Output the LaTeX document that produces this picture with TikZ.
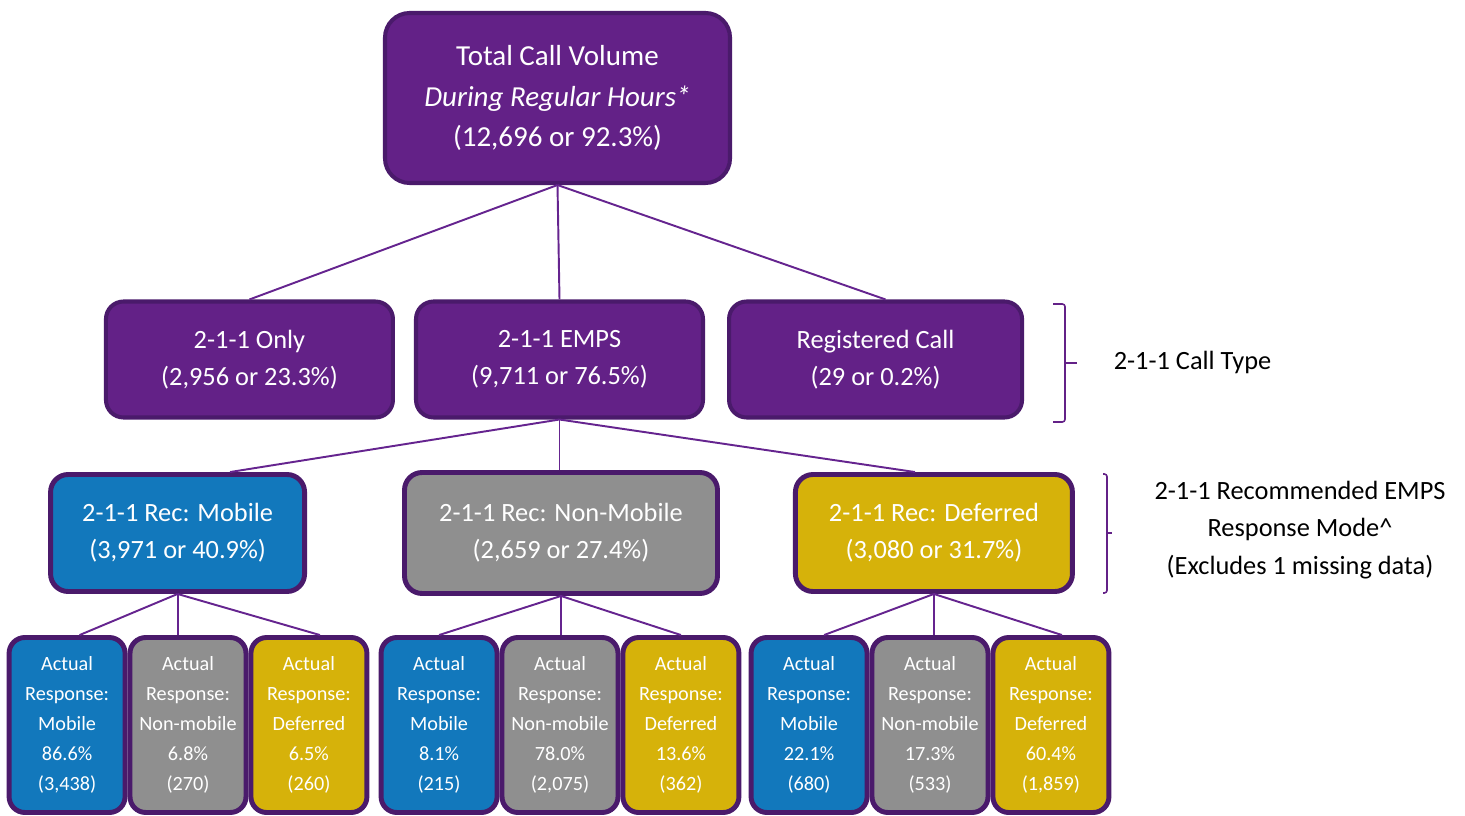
\documentclass[tikz,border=0pt]{standalone}
\usepackage{fontspec}
\setmainfont{Carlito}
\usepackage{xcolor}
\usetikzlibrary{positioning,calc}
\definecolor{callpurple}{HTML}{632187}
\definecolor{edgepurple}{HTML}{4A1A6B}
\definecolor{linepurple}{HTML}{65248F}
\definecolor{mobblue}{HTML}{1278BC}
\definecolor{nonmobgray}{HTML}{8F8F8F}
\definecolor{defgold}{HTML}{D6B20A}
\tikzset{
  box/.style={draw=edgepurple, line width=2.3pt, rounded corners=10pt, align=center,
              text=white, inner sep=2pt},
  calltype/.style={box, fill=callpurple, minimum width=5.74cm, minimum height=2.32cm,
              font=\fontsize{15}{21}\selectfont},
  rec/.style={box, line width=2.8pt, minimum height=2.34cm, font=\fontsize{15}{21}\selectfont},
  actual/.style={box, line width=2.8pt, rounded corners=9pt, minimum width=2.32cm,
              minimum height=3.5cm, font=\fontsize{11.5}{17}\selectfont,
              execute at begin node=\rule{0pt}{16pt}},
  link/.style={draw=linepurple, line width=1.1pt},
  brace/.style={draw=callpurple, line width=0.9pt, rounded corners=1.5pt},
  note/.style={align=center, font=\fontsize{15}{21.3}\selectfont}
}

\begin{document}
\begin{tikzpicture}
  \useasboundingbox (0,0) rectangle (29.3,-16.32);

  \node[box, fill=callpurple, rounded corners=14pt, minimum width=6.9cm, minimum height=3.4cm,
        font=\fontsize{16.5}{23.2}\selectfont] (total) at (11.15,-1.96)
        {Total Call Volume\\\textit{During Regular Hours*}\\(12,696 or 92.3\%)};

  \node[calltype] (emps) at (11.19,-7.19) {2-1-1 EMPS\\(9,711 or 76.5\%)};
  \node[calltype, left=0.38cm of emps] (only) {2-1-1 Only\\(2,956 or 23.3\%)};
  \node[calltype, right=0.44cm of emps, minimum width=5.86cm] (reg) {Registered Call\\(29 or 0.2\%)};

  \node[rec, fill=nonmobgray, minimum width=6.26cm, minimum height=2.42cm] (rnon) at (11.22,-10.66)
        {2-1-1 Rec: Non-Mobile\\(2,659 or 27.4\%)};
  \node[rec, fill=mobblue, minimum width=5.08cm, left=1.9cm of rnon] (rmob)
        {2-1-1 Rec: Mobile\\(3,971 or 40.9\%)};
  \node[rec, fill=defgold, minimum width=5.54cm, right=1.46cm of rnon] (rdef)
        {2-1-1 Rec: Deferred\\(3,080 or 31.7\%)};

  \node[actual, fill=nonmobgray] (anon1) at (3.76,-14.5) {Actual\\Response:\\Non-mobile\\6.8\%\\(270)};
  \node[actual, fill=mobblue, left=0pt of anon1] (amob1) {Actual\\Response:\\Mobile\\86.6\%\\(3,438)};
  \node[actual, fill=defgold, right=0pt of anon1] (adef1) {Actual\\Response:\\Deferred\\6.5\%\\(260)};

  \node[actual, fill=nonmobgray] (anon2) at (11.2,-14.5) {Actual\\Response:\\Non-mobile\\78.0\%\\(2,075)};
  \node[actual, fill=mobblue, left=0pt of anon2] (amob2) {Actual\\Response:\\Mobile\\8.1\%\\(215)};
  \node[actual, fill=defgold, right=0pt of anon2] (adef2) {Actual\\Response:\\Deferred\\13.6\%\\(362)};

  \node[actual, fill=nonmobgray] (anon3) at (18.6,-14.5) {Actual\\Response:\\Non-mobile\\17.3\%\\(533)};
  \node[actual, fill=mobblue, left=0pt of anon3] (amob3) {Actual\\Response:\\Mobile\\22.1\%\\(680)};
  \node[actual, fill=defgold, right=0pt of anon3] (adef3) {Actual\\Response:\\Deferred\\60.4\%\\(1,859)};

  \node[note] (typelbl) at (23.85,-7.24) {2-1-1 Call Type};
  \node[note] (modelbl) at (26.0,-10.6)
        {2-1-1 Recommended EMPS\\Response Mode\textasciicircum\\(Excludes 1 missing data)};

  \draw[link] (total.south) -- (only.north);
  \draw[link] (total.south) -- (emps.north);
  \draw[link] (total.south) -- ([xshift=0.2cm]reg.north);

  \draw[link] (emps.south) -- ([xshift=1.05cm]rmob.north);
  \draw[link] (emps.south) -- (emps.south |- rnon.north);
  \draw[link] (emps.south) -- ([xshift=-0.38cm]rdef.north);

  \draw[link] (rmob.south) -- ([xshift=0.25cm]amob1.north);
  \draw[link] (rmob.south) -- (rmob.south |- anon1.north);
  \draw[link] (rmob.south) -- ([xshift=0.22cm]adef1.north);
  \draw[link] (rnon.south) -- (amob2.north);
  \draw[link] (rnon.south) -- (rnon.south |- anon2.north);
  \draw[link] (rnon.south) -- (adef2.north);
  \draw[link] (rdef.south) -- ([xshift=0.3cm]amob3.north);
  \draw[link] (rdef.south) -- (rdef.south |- anon3.north);
  \draw[link] (rdef.south) -- ([xshift=0.22cm]adef3.north);

  \draw[brace] (21.06,-6.08) -- (21.3,-6.08) -- (21.3,-8.44) -- (21.06,-8.44);
  \draw[brace] (21.3,-7.26) -- (21.54,-7.26);
  \draw[brace] (22.06,-9.48) -- (22.14,-9.48) -- (22.14,-11.86) -- (22.06,-11.86);
  \draw[brace] (22.14,-10.66) -- (22.24,-10.66);
\end{tikzpicture}
\end{document}
